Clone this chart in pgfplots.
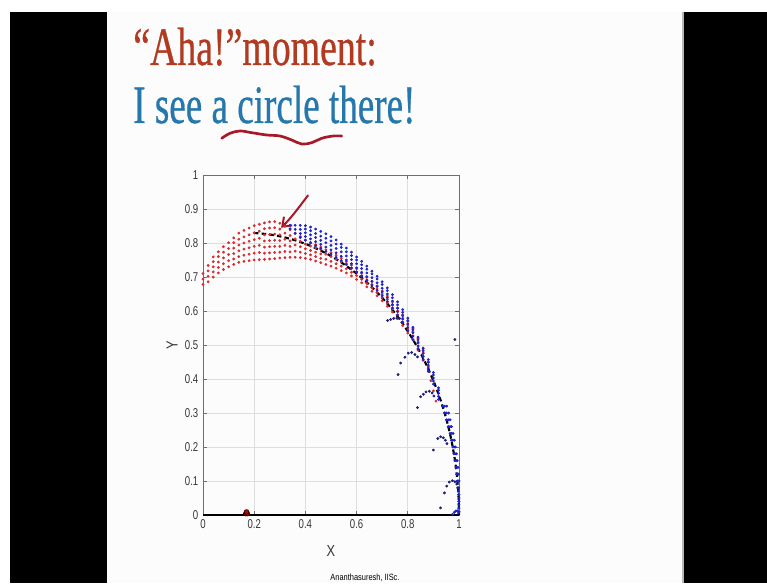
\documentclass[border=0pt]{standalone}
\usepackage{graphicx}
\usepackage{pgfplots}
\pgfplotsset{compat=1.18}
\usepackage{fontspec}
\setmainfont{Liberation Serif}
\newfontfamily\titlefont[FakeBold=0.7]{Liberation Serif}
\newfontfamily\plotfont{Liberation Sans}
\usetikzlibrary{arrows.meta}

\definecolor{titlered}{RGB}{178,58,32}
\definecolor{titleblue}{RGB}{38,120,172}
\definecolor{inkred}{RGB}{165,25,40}
\definecolor{dotred}{RGB}{215,45,50}
\definecolor{dotblue}{RGB}{30,35,205}
\definecolor{dotnavy}{RGB}{30,30,120}
\definecolor{slidebg}{RGB}{252,252,252}
\definecolor{axgray}{RGB}{110,110,110}
\definecolor{gridgray}{RGB}{222,222,222}
\definecolor{ticktext}{RGB}{55,55,55}

\begin{document}
\begin{tikzpicture}[x=0.75pt,y=0.75pt]
\useasboundingbox (0,0) rectangle (767,583);
% frame: slide between two black bars
\fill[white] (0,0) rectangle (767,583);
\fill[black] (10,0) rectangle (107,571);
\fill[slidebg] (107,0) rectangle (683,571);
\fill[black] (683,0) rectangle (767,571);
\draw[gray!55, line width=0.8pt] (683,0) -- (683,571);

% headline
\node[anchor=base west, inner sep=0, text=titlered] at (133,518)
  {\scalebox{0.70}[1]{\titlefont\fontsize{40.5}{40.5}\selectfont “Aha!”moment:}};
\node[anchor=base west, inner sep=0, text=titleblue] at (133,460)
  {\scalebox{0.687}[1]{\titlefont\fontsize{40.5}{40.5}\selectfont I see a circle there!}};
% hand-drawn squiggle under "circle"
\draw[inkred, line width=2pt, line cap=round] plot[smooth, tension=0.6] coordinates
  {(221.7,444.7) (230,449.7) (240,452) (251.7,450.3) (266.7,448) (280,447)
   (291.7,443) (301.7,439) (311.7,440.3) (321.7,444.7) (333.3,447) (341.7,447)};

\begin{axis}[
  at={(152.25pt,51pt)}, anchor=south west,
  scale only axis, width=192pt, height=255pt,
  xmin=0, xmax=1, ymin=0, ymax=1,
  xtick={0,0.2,0.4,0.6,0.8,1},
  ytick={0,0.1,0.2,0.3,0.4,0.5,0.6,0.7,0.8,0.9,1},
  grid=major, major grid style={gridgray, line width=0.5pt},
  axis line style={axgray, line width=0.5pt},
  tick style={axgray, line width=0.5pt},
  tick align=inside, major tick length=3pt,
  /pgf/number format/assume math mode=true,
  /pgf/number format/fixed, /pgf/number format/precision=1,
  ticklabel style={font=\plotfont\fontsize{9.6}{9.6}\selectfont, text=ticktext},
  xticklabel={\scalebox{0.75}[1]{\pgfmathprintnumber{\tick}}},
  yticklabel={\scalebox{0.75}[1]{\pgfmathprintnumber{\tick}}},
  clip=false,
]
% red trajectory points
\addplot[only marks, mark=*, mark size=0.85pt, dotred, mark options={draw=none, fill=dotred}] coordinates {
(0.00,0.678)(0.00,0.694)(0.00,0.710)
(0.02,0.686)(0.02,0.702)(0.02,0.718)(0.02,0.734)
(0.04,0.700)(0.04,0.715)(0.04,0.730)(0.04,0.745)(0.04,0.759)
(0.06,0.712)(0.06,0.728)(0.06,0.744)(0.06,0.760)(0.06,0.774)
(0.08,0.722)(0.08,0.739)(0.08,0.756)(0.08,0.773)(0.08,0.789)
(0.10,0.730)(0.10,0.748)(0.10,0.766)(0.10,0.784)(0.10,0.801)
(0.12,0.737)(0.12,0.753)(0.12,0.769)(0.12,0.785)(0.12,0.801)(0.12,0.815)
(0.14,0.743)(0.14,0.760)(0.14,0.777)(0.14,0.794)(0.14,0.811)(0.14,0.829)
(0.16,0.746)(0.16,0.764)(0.16,0.782)(0.16,0.800)(0.16,0.818)(0.16,0.837)
(0.18,0.748)(0.18,0.767)(0.18,0.786)(0.18,0.805)(0.18,0.824)(0.18,0.844)
(0.20,0.750)(0.20,0.770)(0.20,0.790)(0.20,0.810)(0.20,0.830)(0.20,0.851)
(0.22,0.751)(0.22,0.772)(0.22,0.793)(0.22,0.814)(0.22,0.835)(0.22,0.855)
(0.24,0.752)(0.24,0.770)(0.24,0.788)(0.24,0.806)(0.24,0.824)(0.24,0.842)(0.24,0.859)
(0.26,0.753)(0.26,0.771)(0.26,0.789)(0.26,0.807)(0.26,0.825)(0.26,0.844)(0.26,0.862)
(0.28,0.754)(0.28,0.772)(0.28,0.790)(0.28,0.808)(0.28,0.826)(0.28,0.845)(0.28,0.863)
(0.30,0.756)(0.30,0.773)(0.30,0.790)(0.30,0.807)(0.30,0.824)(0.30,0.841)(0.30,0.858)
(0.32,0.757)(0.32,0.775)(0.32,0.793)(0.32,0.811)(0.32,0.829)(0.32,0.849)
(0.34,0.758)(0.34,0.774)(0.34,0.790)(0.34,0.806)(0.34,0.822)(0.34,0.839)
(0.36,0.758)(0.36,0.776)(0.36,0.794)(0.36,0.812)(0.36,0.829)
(0.38,0.757)(0.38,0.773)(0.38,0.789)(0.38,0.805)(0.38,0.819)
(0.40,0.755)(0.40,0.769)(0.40,0.783)(0.40,0.797)(0.40,0.809)
(0.42,0.752)(0.42,0.765)(0.42,0.778)(0.42,0.791)(0.42,0.802)
(0.44,0.747)(0.44,0.760)(0.44,0.773)(0.44,0.786)(0.44,0.795)
(0.46,0.742)(0.46,0.755)(0.46,0.768)(0.46,0.781)(0.46,0.788)
(0.48,0.737)(0.48,0.752)(0.48,0.767)(0.48,0.780)
(0.50,0.732)(0.50,0.746)(0.50,0.760)(0.50,0.772)
(0.52,0.726)(0.52,0.739)(0.52,0.752)(0.52,0.764)
(0.54,0.719)(0.54,0.732)(0.54,0.745)(0.54,0.755)
(0.56,0.712)(0.56,0.724)(0.56,0.736)(0.56,0.745)
(0.58,0.703)(0.58,0.714)(0.58,0.725)(0.58,0.735)
(0.60,0.693)(0.60,0.704)(0.60,0.715)(0.60,0.724)
(0.62,0.683)(0.62,0.693)(0.62,0.703)(0.62,0.711)
(0.64,0.671)(0.64,0.681)(0.64,0.691)(0.64,0.699)
(0.66,0.658)(0.66,0.668)(0.66,0.678)(0.66,0.687)
(0.68,0.645)(0.68,0.655)(0.68,0.665)(0.68,0.674)
(0.70,0.630)(0.70,0.640)(0.70,0.650)(0.70,0.659)
(0.72,0.614)(0.72,0.624)(0.72,0.634)(0.72,0.644)
(0.74,0.597)(0.74,0.607)(0.74,0.617)(0.74,0.627)
(0.76,0.578)(0.76,0.589)(0.76,0.600)(0.76,0.609)
(0.78,0.557)(0.78,0.568)(0.78,0.579)(0.78,0.589)
(0.80,0.535)(0.80,0.547)(0.80,0.559)(0.80,0.569)
(0.82,0.515)(0.82,0.527)(0.82,0.539)(0.82,0.549)
(0.84,0.485)(0.84,0.497)(0.84,0.509)(0.84,0.519)
(0.86,0.455)(0.86,0.467)(0.86,0.479)(0.86,0.489)
(0.88,0.422)(0.88,0.436)(0.88,0.449)
(0.89,0.395)(0.90,0.365)(0.91,0.335)
};
% blue trajectory points
\addplot[only marks, mark=*, mark size=0.85pt, dotblue, mark options={draw=none, fill=dotblue}] coordinates {
(0.34,0.842)(0.34,0.852)
(0.36,0.828)(0.36,0.840)(0.36,0.852)
(0.38,0.816)(0.38,0.828)(0.38,0.840)(0.38,0.852)
(0.40,0.808)(0.40,0.819)(0.40,0.830)(0.40,0.841)(0.40,0.851)
(0.42,0.800)(0.42,0.812)(0.42,0.824)(0.42,0.836)(0.42,0.847)
(0.44,0.792)(0.44,0.804)(0.44,0.816)(0.44,0.828)(0.44,0.841)
(0.46,0.784)(0.46,0.796)(0.46,0.808)(0.46,0.820)(0.46,0.834)
(0.48,0.775)(0.48,0.788)(0.48,0.801)(0.48,0.814)(0.48,0.827)
(0.50,0.767)(0.50,0.780)(0.50,0.793)(0.50,0.806)(0.50,0.819)
(0.52,0.758)(0.52,0.771)(0.52,0.784)(0.52,0.797)(0.52,0.809)
(0.54,0.748)(0.54,0.761)(0.54,0.774)(0.54,0.787)(0.54,0.797)
(0.56,0.738)(0.56,0.750)(0.56,0.762)(0.56,0.774)(0.56,0.785)
(0.58,0.727)(0.58,0.739)(0.58,0.751)(0.58,0.763)(0.58,0.773)
(0.60,0.715)(0.60,0.727)(0.60,0.739)(0.60,0.750)(0.60,0.759)
(0.62,0.703)(0.62,0.714)(0.62,0.725)(0.62,0.736)(0.62,0.746)
(0.64,0.690)(0.64,0.701)(0.64,0.712)(0.64,0.723)(0.64,0.732)
(0.66,0.676)(0.66,0.687)(0.66,0.698)(0.66,0.709)(0.66,0.717)
(0.68,0.661)(0.68,0.672)(0.68,0.683)(0.68,0.694)(0.68,0.702)
(0.70,0.645)(0.70,0.656)(0.70,0.667)(0.70,0.678)(0.70,0.686)
(0.72,0.628)(0.72,0.639)(0.72,0.650)(0.72,0.660)(0.72,0.668)
(0.74,0.609)(0.74,0.619)(0.74,0.629)(0.74,0.639)(0.74,0.648)
(0.76,0.588)(0.76,0.598)(0.76,0.608)(0.76,0.618)(0.76,0.627)
(0.78,0.566)(0.78,0.576)(0.78,0.586)(0.78,0.596)(0.78,0.604)
(0.80,0.542)(0.80,0.552)(0.80,0.562)(0.80,0.572)(0.80,0.579)
(0.82,0.516)(0.82,0.526)(0.82,0.536)(0.82,0.545)(0.82,0.552)
(0.84,0.488)(0.84,0.497)(0.84,0.506)(0.84,0.515)(0.84,0.523)
(0.86,0.457)(0.86,0.466)(0.86,0.475)(0.86,0.484)(0.86,0.491)
(0.88,0.423)(0.88,0.432)(0.88,0.441)(0.88,0.450)(0.88,0.457)
(0.90,0.385)(0.90,0.394)(0.90,0.403)(0.90,0.412)(0.90,0.419)
(0.92,0.340)(0.92,0.349)(0.92,0.358)(0.92,0.367)(0.92,0.374)
(0.936,0.32)(0.944,0.32)(0.952,0.32)
(0.944,0.30)(0.951,0.30)(0.959,0.30)
(0.951,0.28)(0.958,0.28)(0.965,0.28)
(0.958,0.26)(0.965,0.26)(0.971,0.26)
(0.965,0.24)(0.971,0.24)(0.977,0.24)
(0.970,0.22)(0.976,0.22)(0.982,0.22)
(0.976,0.20)(0.981,0.20)(0.986,0.20)
(0.980,0.18)(0.985,0.18)(0.990,0.18)
(0.984,0.16)(0.989,0.16)(0.993,0.16)
(0.988,0.14)(0.992,0.14)(0.996,0.14)
(0.991,0.12)(0.995,0.12)(0.998,0.12)
(0.994,0.10)(0.997,0.10)(1.000,0.10)
(0.996,0.08)(0.999,0.08)(0.998,0.07)
(0.998,0.06)(1.000,0.06)(1.000,0.05)
(0.999,0.04)(1.000,0.04)(1.000,0.03)
(1.000,0.02)(0.999,0.02)(1.000,0.01)
(0.975,0.002)(0.982,0.008)(0.988,0.012)(0.994,0.012)(0.998,0.006)
};
% short side branches
\addplot[only marks, mark=*, mark size=0.85pt, dotnavy, mark options={draw=none, fill=dotnavy}] coordinates {
(0.721,0.572)(0.733,0.575)(0.745,0.578)(0.757,0.579)(0.768,0.578)
(0.762,0.413)(0.772,0.447)(0.789,0.464)(0.802,0.476)(0.815,0.478)(0.828,0.472)(0.838,0.465)
(0.838,0.316)(0.850,0.348)(0.861,0.355)(0.871,0.362)(0.884,0.364)(0.895,0.359)(0.902,0.350)
(0.900,0.191)(0.917,0.225)(0.928,0.230)(0.939,0.227)(0.947,0.220)(0.953,0.210)
(0.928,0.021)(0.943,0.065)(0.952,0.085)(0.962,0.097)(0.974,0.101)(0.984,0.098)(0.991,0.091)(0.995,0.080)
(0.984,0.516)
};
% fitted circle, centre (0.17,0), radius 0.83
\addplot[black, line width=1.6pt, dash pattern=on 3.4pt off 2.4pt, smooth] coordinates {
(0.199,0.8295)(0.257,0.8254)(0.314,0.8174)(0.371,0.8053)(0.4265,0.7894)
(0.4809,0.7696)(0.5339,0.7460)(0.585,0.7188)(0.6341,0.6881)(0.6810,0.6540)
(0.7254,0.6168)(0.7670,0.5766)(0.8058,0.5335)(0.8415,0.4879)(0.8738,0.4398)
(0.9028,0.3897)(0.9282,0.3376)(0.9500,0.2839)(0.9679,0.2287)(0.9818,0.1726)
(0.9919,0.1155)(0.9980,0.0579)(1.0,0)
};
% ground link
\addplot[black, line width=1.3pt] coordinates {(0,0) (1,0)};
% fixed pivot
\addplot[only marks, mark=*, mark size=1.8pt, mark options={draw=none, fill=red!75!black}] coordinates {
(0.167,0.004)(0.173,0.004)(0.170,0.009)
};
% pointer to the arc
\draw[inkred, line width=1.5pt, line cap=round, -{Straight Barb[length=6pt,width=9pt]}]
  (axis cs:0.41,0.94) .. controls (axis cs:0.37,0.90) and (axis cs:0.34,0.87) .. (axis cs:0.305,0.845);
% axis titles
\node[text=ticktext, font=\plotfont\fontsize{12}{12}\selectfont] at (axis description cs:0.5,-0.106)
  {\scalebox{0.8}[1]{X}};
\node[text=ticktext, rotate=90, font=\plotfont\fontsize{12}{12}\selectfont] at (axis description cs:-0.121,0.5)
  {\scalebox{0.8}[1]{Y}};
\end{axis}

\node[anchor=base, inner sep=0, font=\plotfont\fontsize{6.8}{6.8}\selectfont] at (365,3)
  {\scalebox{0.82}[1]{Ananthasuresh, IISc.}};
\end{tikzpicture}
\end{document}
